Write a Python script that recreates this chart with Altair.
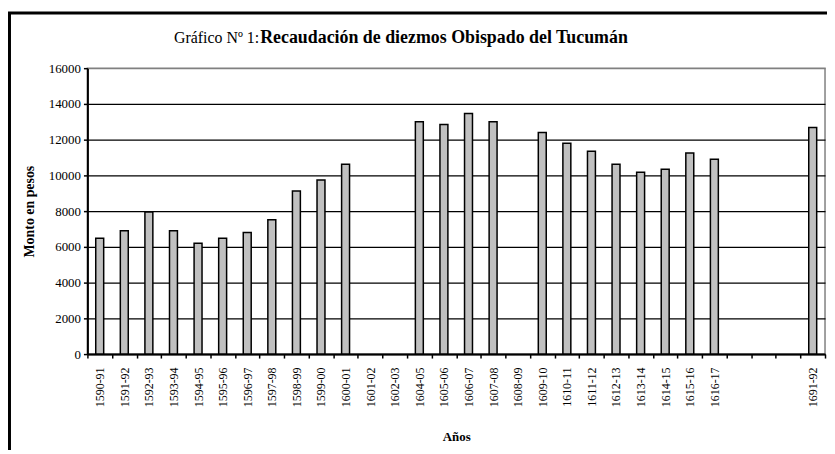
import altair as alt
import pandas as pd

# ---- data ----
periods = ["1590-91", "1591-92", "1592-93", "1593-94", "1594-95", "1595-96",
           "1596-97", "1597-98", "1598-99", "1599-00", "1600-01", "1601-02",
           "1602-03", "1604-05", "1605-06", "1606-07", "1607-08", "1608-09",
           "1609-10", "1610-11", "1611-12", "1612-13", "1613-14", "1614-15",
           "1615-16", "1616-17", " ", "  ", "   ", "1691-92"]
amounts = [6480, 6900, 7950, 6900, 6200, 6480,
           6800, 7520, 9130, 9740, 10630, None,
           None, 13000, 12850, 13460, 13000, None,
           12400, 11800, 11350, 10630, 10180, 10350,
           11250, 10900, None, None, None, 12680]
y_ticks = [0, 2000, 4000, 6000, 8000, 10000, 12000, 14000, 16000]

title_normal = "Gráfico Nº 1: "
title_bold = "Recaudación de  diezmos  Obispado del Tucumán"

df = pd.DataFrame({"periodo": periods, "monto": amounts}).dropna()

FONT = "'Liberation Serif', 'DejaVu Serif', serif"

bars = alt.Chart(df).mark_bar(
    size=8, fill="#c0c0c0", stroke="black", strokeWidth=1.5
).encode(
    x=alt.X("periodo:N",
            scale=alt.Scale(domain=periods, paddingInner=0, paddingOuter=0),
            sort=periods,
            axis=alt.Axis(title="Años", labelAngle=-90, labelFont=FONT,
                          labelFontSize=12, labelColor="black",
                          tickBand="extent", tickColor="black", tickSize=4,
                          tickWidth=1.5, domainColor="black", domainWidth=2,
                          labelPadding=9, titleFont=FONT, titleFontSize=13,
                          titleFontWeight="bold", titleColor="black",
                          titlePadding=24, grid=False)),
    y=alt.Y("monto:Q",
            scale=alt.Scale(domain=[0, 16000], nice=False),
            axis=alt.Axis(title="Monto en pesos", values=y_ticks, format="d",
                          labelFont=FONT, labelFontSize=13, labelColor="black",
                          tickColor="black", tickSize=4, tickWidth=1.5,
                          domainColor="black", domainWidth=2,
                          labelPadding=3, titleFont=FONT, titleFontSize=14,
                          titleFontWeight="bold", titleColor="black",
                          titlePadding=12, grid=True,
                          gridColor=alt.condition("datum.value == 16000",
                                                  alt.value("#808080"),
                                                  alt.value("black")),
                          gridWidth=1.3)),
)

one = alt.Data(values=[{}])

frame = alt.Chart(one).mark_rect(filled=False, stroke="black", strokeWidth=3).encode(
    x=alt.value(-78.5), x2=alt.value(800), y=alt.value(-55.5), y2=alt.value(440)
)

t1 = alt.Chart(one).mark_text(
    text=title_normal, font=FONT, fontSize=16, align="right", baseline="middle",
    color="black"
).encode(x=alt.value(173), y=alt.value(-30))

t2 = alt.Chart(one).mark_text(
    text=title_bold, font=FONT, fontSize=18, fontWeight="bold", align="left",
    baseline="middle", color="black"
).encode(x=alt.value(174), y=alt.value(-30))

chart = alt.layer(bars, frame, t1, t2).properties(
    width=743, height=288,
    autosize=alt.AutoSizeParams(type="none"),
    padding={"left": 80, "top": 59, "right": 2, "bottom": 95},
    background="white",
).configure_view(stroke="#808080", strokeWidth=1.5)

chart.save("out.html", embed_options={"renderer": "svg", "actions": False})
